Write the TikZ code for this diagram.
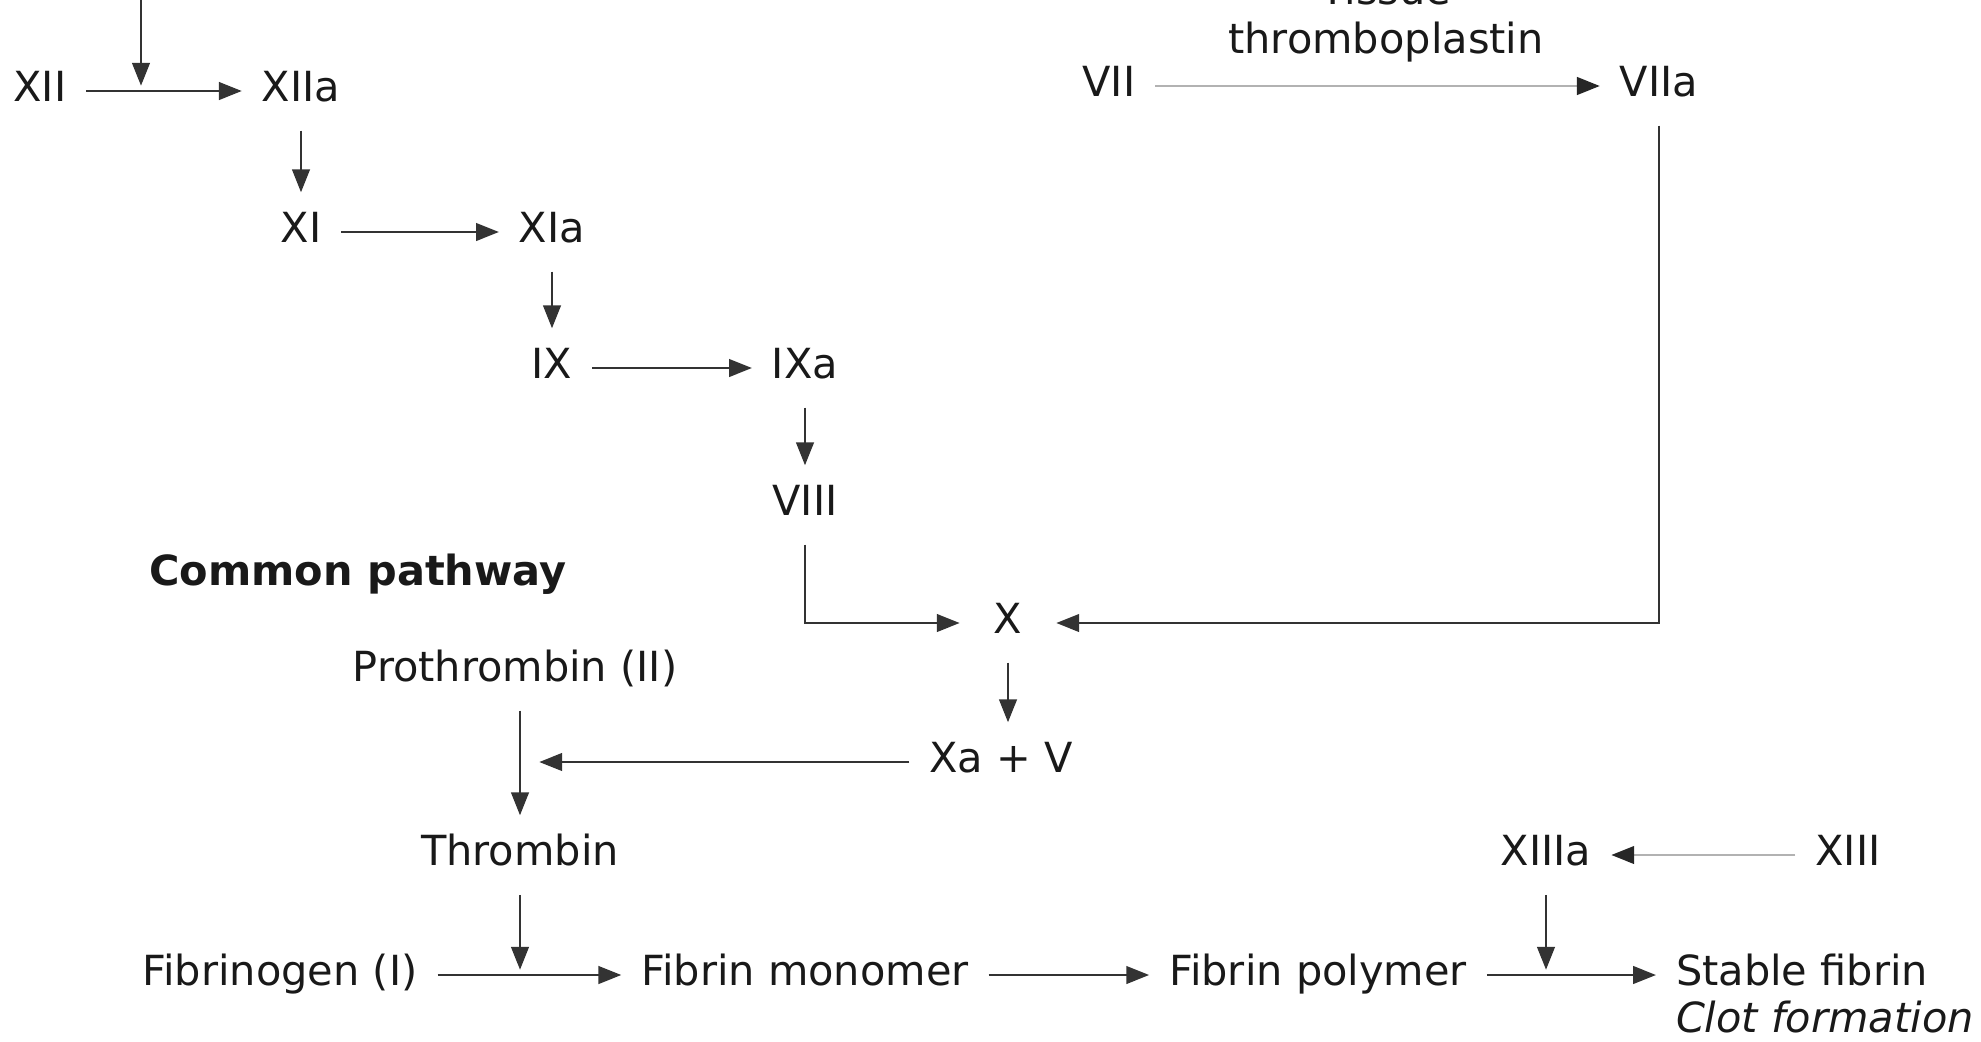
\documentclass[tikz,border=0pt]{standalone}
\usepackage{fontspec}
\setmainfont{DejaVu Sans}
\usetikzlibrary{arrows.meta,calc}
\tikzset{>={Triangle[length=6.5pt,width=5pt]},fac/.style={font=\fontsize{11.8}{14}\selectfont,text=black!90,inner sep=4pt,text height=8.6pt,text depth=2.6pt},flow/.style={line width=.7pt,black!80,->,shorten <=1.5pt,shorten >=1.5pt},faint/.style={flow,black!30,-{Triangle[length=6.5pt,width=5pt,black!85]}}}

\begin{document}
\begin{tikzpicture}[x=.01cm,y=-.01cm]
\useasboundingbox (0,0) rectangle (1981,1042);
% intrinsic / extrinsic factors
\foreach \n/\x/\y/\t in {xii/40/91/XII,xiia/301/91/XIIa,xi/301/232/XI,xia/552/232/XIa,ix/552/368/IX,ixa/805/368/IXa,viii/805/505/VIII,vii/1109/86/VII,viia/1659/86/VIIa,xav/1001/762/Xa + V,xiiia/1546/855/XIIIa,xiii/1848/855/XIII}{\node[fac] (\n) at (\x,\y){\t};}
\node[fac,inner xsep=8pt] (x) at (1008,623){X};
\node[font=\fontsize{11.8}{14}\selectfont,text=black!90,align=center,anchor=south,inner sep=0pt] (tissue) at (1386,63){Tissue\\thromboplastin};
% common pathway
\node[fac,font=\fontsize{11.8}{14}\selectfont\bfseries] (common) at (358,575){Common pathway};
\foreach \n/\x/\y/\t in {proth/515/671/Prothrombin (II),thromb/520/855/Thrombin,fbg/280/975/Fibrinogen (I),mono/805/975/Fibrin monomer,poly/1318/975/Fibrin polymer,stable/1802/975/Stable fibrin}{\node[fac] (\n) at (\x,\y){\t};}
\node[fac,font=\fontsize{11.8}{14}\selectfont\itshape,anchor=north west,inner sep=0pt] (clot) at ([xshift=4pt,yshift=2.2pt]stable.south west){Clot formation};
\coordinate (src) at (141,0);\coordinate (xiij) at (141,91);
\draw[flow,shorten <=0pt] (src)--(xiij);
\draw[flow] (xii)--(xiia);\draw[flow] (xi |- xiia.south)--(xi);\draw[flow] (xi)--(xia);\draw[flow] (ix |- xia.south)--(ix);\draw[flow] (ix)--(ixa);\draw[flow] (viii |- ixa.south)--(viii);
\draw[faint] (vii)--(viia);
\draw[flow] (viii)|-(x);\draw[flow] (viia)|-(x);
\draw[flow] (x)--(x |- xav.north);
\coordinate (pj) at ($(thromb.north |- xav)+(14,0)$);\draw[flow] (xav)--(pj);
\draw[flow] (thromb |- proth.south)--(thromb);
\coordinate (fj) at (thromb |- fbg);\draw[flow] (thromb)--(fj);
\draw[flow] (fbg)--(mono);\draw[flow] (mono)--(poly);\draw[flow] (poly)--(stable);
\draw[faint] (xiii)--(xiiia);
\coordinate (sj) at (xiiia |- stable);\draw[flow] (xiiia)--(sj);
\end{tikzpicture}
\end{document}
